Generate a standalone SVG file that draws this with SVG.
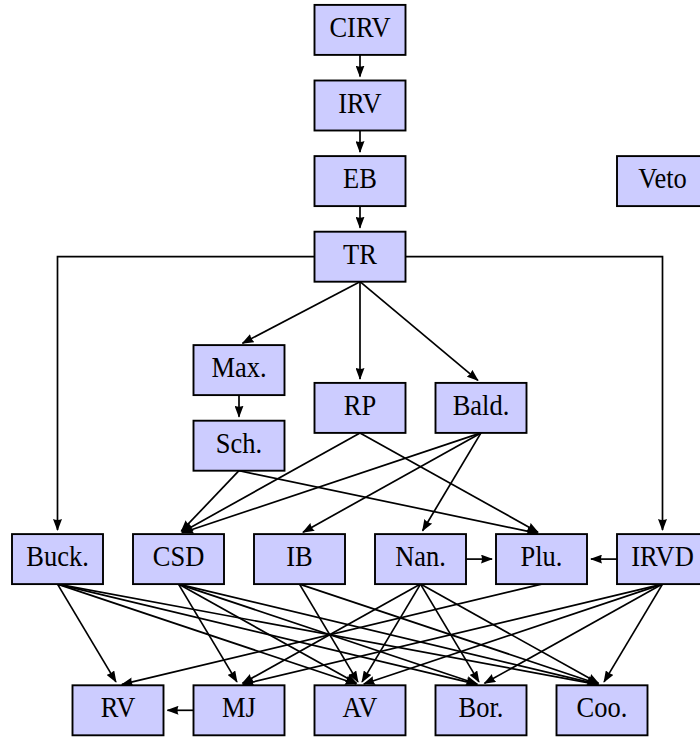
<svg xmlns="http://www.w3.org/2000/svg" width="700" height="738" viewBox="0 0 700 738">
<style>
.node rect{fill:#ccccff;stroke:#000;stroke-width:1.9}
.node text{font-family:"Liberation Serif","Times New Roman",serif;font-size:26.5px;text-anchor:middle;fill:#000}
.edge{stroke:#000;stroke-width:1.7;fill:none;marker-end:url(#ah)}
</style>
<defs>
<marker id="ah" markerUnits="userSpaceOnUse" viewBox="0 0 12 9" markerWidth="12" markerHeight="9" refX="11" refY="4.5" orient="auto">
<path d="M0,0 L12,4.5 L0,9 Q2,4.5 0,0 z" fill="#000"/>
</marker>
</defs>
<rect width="700" height="738" fill="#fff"/>
<g id="connectors">
<path class="edge" d="M360,54.9 V76.5"/>
<path class="edge" d="M360,130.5 V152.1"/>
<path class="edge" d="M360,206.1 V227.7"/>
<path class="edge" d="M314.5,256.7 H57.5 V530"/>
<path class="edge" d="M405.5,256.7 H662.5 V530"/>
<path class="edge" d="M360,281.7 L242.5,343.2"/>
<path class="edge" d="M360,281.7 V378.9"/>
<path class="edge" d="M360,281.7 L477.9,380.3"/>
<path class="edge" d="M239,395.1 V416.7"/>
<path class="edge" d="M360,432.9 L182,532.2"/>
<path class="edge" d="M360,432.9 L538,532.2"/>
<path class="edge" d="M481,432.9 L182.3,532.8"/>
<path class="edge" d="M481,432.9 L303,532.2"/>
<path class="edge" d="M481,432.9 L422.6,530.7"/>
<path class="edge" d="M239,470.7 L181.3,531.2"/>
<path class="edge" d="M239,470.7 L537.6,533.3"/>
<path class="edge" d="M466,559.1 H492"/>
<path class="edge" d="M617,559.1 H591"/>
<path class="edge" d="M193.5,710.3 H167.5"/>
<path class="edge" d="M57.5,584.1 L115.95,681.9"/>
<path class="edge" d="M57.5,584.1 L356.2,684"/>
<path class="edge" d="M57.5,584.1 L477.1,684.4"/>
<path class="edge" d="M57.5,584.1 L598.1,684.6"/>
<path class="edge" d="M178.5,584.1 L236.95,681.9"/>
<path class="edge" d="M178.5,584.1 L356.5,683.35"/>
<path class="edge" d="M178.5,584.1 L477.2,684"/>
<path class="edge" d="M178.5,584.1 L598.1,684.4"/>
<path class="edge" d="M299.5,584.1 L357.95,681.9"/>
<path class="edge" d="M299.5,584.1 L598.2,684"/>
<path class="edge" d="M420.5,584.1 L242.5,683.35"/>
<path class="edge" d="M420.5,584.1 L362.05,681.9"/>
<path class="edge" d="M420.5,584.1 L478.95,681.9"/>
<path class="edge" d="M420.5,584.1 L598.5,683.35"/>
<path class="edge" d="M541.5,584.1 L121.9,684.4"/>
<path class="edge" d="M662.5,584.1 L242.9,684.4"/>
<path class="edge" d="M662.5,584.1 L363.8,684"/>
<path class="edge" d="M662.5,584.1 L484.5,683.35"/>
<path class="edge" d="M662.5,584.1 L604.05,681.9"/>
</g>
<g id="CIRV" class="node"><rect x="314.5" y="4.9" width="91" height="50"/><text transform="translate(360,37) scale(1,1.1)">CIRV</text></g>
<g id="IRV" class="node"><rect x="314.5" y="80.5" width="91" height="50"/><text transform="translate(360,112.6) scale(1,1.1)">IRV</text></g>
<g id="EB" class="node"><rect x="314.5" y="156.1" width="91" height="50"/><text transform="translate(360,188.2) scale(1,1.1)">EB</text></g>
<g id="Veto" class="node"><rect x="617" y="156.1" width="91" height="50"/><text transform="translate(662.5,188.2) scale(1,1.1)">Veto</text></g>
<g id="TR" class="node"><rect x="314.5" y="231.7" width="91" height="50"/><text transform="translate(360,263.8) scale(1,1.1)">TR</text></g>
<g id="Max" class="node"><rect x="193.5" y="345.1" width="91" height="50"/><text transform="translate(239,377.2) scale(1,1.1)">Max.</text></g>
<g id="Sch" class="node"><rect x="193.5" y="420.7" width="91" height="50"/><text transform="translate(239,452.8) scale(1,1.1)">Sch.</text></g>
<g id="RP" class="node"><rect x="314.5" y="382.9" width="91" height="50"/><text transform="translate(360,415) scale(1,1.1)">RP</text></g>
<g id="Bald" class="node"><rect x="435.5" y="382.9" width="91" height="50"/><text transform="translate(481,415) scale(1,1.1)">Bald.</text></g>
<g id="Buck" class="node"><rect x="12" y="534.1" width="91" height="50"/><text transform="translate(57.5,566.2) scale(1,1.1)">Buck.</text></g>
<g id="CSD" class="node"><rect x="133" y="534.1" width="91" height="50"/><text transform="translate(178.5,566.2) scale(1,1.1)">CSD</text></g>
<g id="IB" class="node"><rect x="254" y="534.1" width="91" height="50"/><text transform="translate(299.5,566.2) scale(1,1.1)">IB</text></g>
<g id="Nan" class="node"><rect x="375" y="534.1" width="91" height="50"/><text transform="translate(420.5,566.2) scale(1,1.1)">Nan.</text></g>
<g id="Plu" class="node"><rect x="496" y="534.1" width="91" height="50"/><text transform="translate(541.5,566.2) scale(1,1.1)">Plu.</text></g>
<g id="IRVD" class="node"><rect x="617" y="534.1" width="91" height="50"/><text transform="translate(662.5,566.2) scale(1,1.1)">IRVD</text></g>
<g id="RV" class="node"><rect x="72.5" y="685.3" width="91" height="50"/><text transform="translate(118,717.4) scale(1,1.1)">RV</text></g>
<g id="MJ" class="node"><rect x="193.5" y="685.3" width="91" height="50"/><text transform="translate(239,717.4) scale(1,1.1)">MJ</text></g>
<g id="AV" class="node"><rect x="314.5" y="685.3" width="91" height="50"/><text transform="translate(360,717.4) scale(1,1.1)">AV</text></g>
<g id="Bor" class="node"><rect x="435.5" y="685.3" width="91" height="50"/><text transform="translate(481,717.4) scale(1,1.1)">Bor.</text></g>
<g id="Coo" class="node"><rect x="556.5" y="685.3" width="91" height="50"/><text transform="translate(602,717.4) scale(1,1.1)">Coo.</text></g>
</svg>
